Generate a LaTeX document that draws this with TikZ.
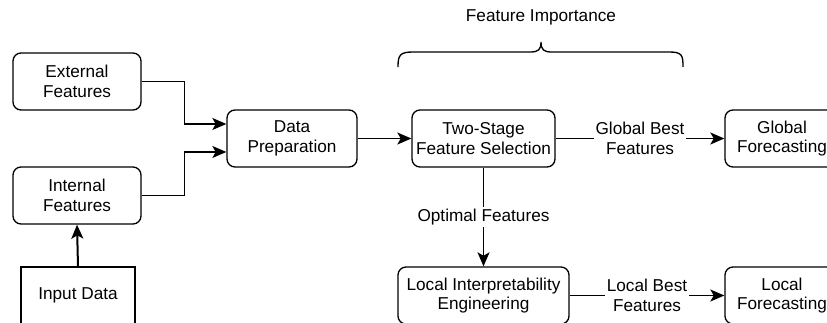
\documentclass[tikz,border=0pt]{standalone}
\usepackage{fontspec}
\setmainfont{Liberation Sans}
\usetikzlibrary{arrows.meta}
\usetikzlibrary{calc}

\begin{document}
\begin{tikzpicture}[x=0.75pt,y=-0.75pt,
		box/.style={draw,line width=1pt,rounded corners=6pt,align=center,minimum height=42.75pt,inner sep=0pt},
		plainbox/.style={draw,line width=1pt,align=center,minimum height=42.75pt,inner sep=0pt},
		arr/.style={line width=1pt,-{Stealth[length=10.5pt,width=9pt,inset=2.5pt]}},
		lab/.style={fill=white,align=center,inner sep=1.5pt}]
				\def\wl{128};
				\def\gap{42};
				\clip (0,0) rectangle (827,322);
				\fontsize{12.9}{14.8}\selectfont
				% inputs
				\node[box,minimum width={\wl*0.75}] (ext) at (77,81.5) {External\\Features};
				\node[box,minimum width={\wl*0.75}] (int) at (77,195.5) {Internal\\Features};
				\node[plainbox,minimum width=85.5pt] (inp) at (78,295.5) {Input Data};
				% main line
				\node[box,minimum width=97.5pt] (prep) at (292,138.5) {Data\\Preparation};
				\node[box,minimum width=107.25pt] (sel) at (483.5,138.5) {Two-Stage\\Feature Selection};
				\node[box,minimum width=85.5pt] (glob) at (782,138.5) {Global\\Forecasting};
				\node[box,minimum width=128.25pt] (loc) at (483.5,295.5) {Local Interpretability\\Engineering};
				\node[box,minimum width=85.5pt] (locf) at (782,295.5) {Local\\Forecasting};
				\coordinate (pin1) at ([yshift=10.9pt]prep.west);
				\coordinate (pin2) at ([yshift=-10.1pt]prep.west);
				\draw[arr] (ext.east) -| ([xshift={-\gap*0.75}]pin1) -- (pin1);
				\draw[arr] (int.east) -| ([xshift={-\gap*0.75}]pin2) -- (pin2);
				\draw[arr,line width=1.5pt] (inp.north) -- (int.south);
				\draw[arr] (prep.east) -- (sel.west);
				\draw[arr] (sel.east) -- (glob.west) node[lab,midway] {Global Best\\Features};
				\draw[arr] (sel.south) -- (loc.north) node[lab,midway] {Optimal Features};
				\draw[arr] (loc.east) -- (locf.west) node[lab,midway] {Local Best\\Features};
				% brace
				\draw[line width=1pt] (398,67) .. controls (398,55) and (400,52) .. (413,52) -- (530,52)
				.. controls (538,52) and (541,50) .. (541,42) .. controls (541,50) and (544,52) .. (552,52)
				-- (669,52) .. controls (682,52) and (683,55) .. (683,67);
				\node (imp) at (541,17) {Feature Importance};
			\end{tikzpicture}
\end{document}
